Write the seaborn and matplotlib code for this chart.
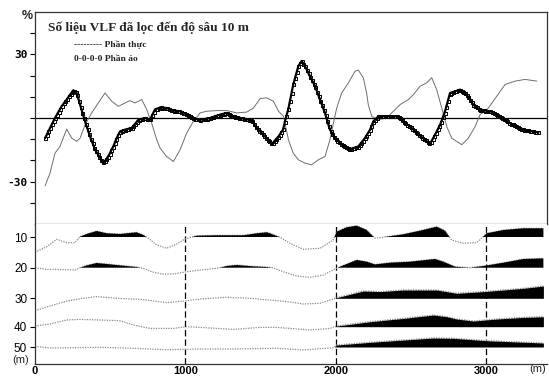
import numpy as np
import matplotlib
matplotlib.use("Agg")
import matplotlib.pyplot as plt
import seaborn as sns
from matplotlib.patheffects import AbstractPathEffect
from matplotlib.path import Path
from matplotlib.transforms import Affine2D, IdentityTransform

# ---------------- data ----------------
# top panel: filtered VLF, percent vs distance (m)
real_m = [67, 100, 133, 166, 211, 244, 277, 300, 333, 377, 421, 466, 510, 555, 599, 632, 665,
          710, 743, 776, 810, 832, 876, 921, 965, 1009, 1054, 1098, 1143, 1209, 1276, 1342,
          1409, 1453, 1498, 1542, 1586, 1620, 1653, 1686, 1718, 1752, 1796, 1840, 1885, 1929,
          1962, 1985, 2007, 2040, 2085, 2129, 2151, 2184, 2206, 2217, 2240, 2284, 2340, 2384,
          2428, 2484, 2517, 2562, 2606, 2639, 2672, 2706, 2739, 2772, 2839, 2883, 2928, 2961,
          3016, 3072, 3127, 3194, 3260, 3338]
real_v = [-32, -26, -16.6, -13.4, -5.2, -9.5, -11, -9.5, -3.2, 2.4, 7.1, 11.8, 7.9, 5.5, 7.1, 8.2,
          7.1, 8.7, 4, -2.4, -10.3, -14.2, -18.2, -20.5, -15, -7.1, -1.6, 2.4, 3.2, 3.5, 3.5, 2.4,
          2.8, 4.7, 9.2, 9.5, 7.9, 3.2, 0.8, -10.3, -16.6, -19.7, -21.3, -22.1, -19.7, -18.2,
          -10.3, -2.4, 4.7, 11.8, 16.6, 22.1, 22.6, 19, 11.8, 6.3, 0.8, -0.8, 0, 3.2,
          6.3, 8.7, 11, 15, 16.6, 19, 13.4, 4.7, -4, -9.5, -12.6, -9.5, -4, 1.6,
          4.7, 10.3, 15.8, 17.4, 18.2, 17.4]

imag_m = [67, 133, 177, 211, 233, 255, 277, 300, 333, 366, 400, 455, 488, 521, 543, 566, 599,
          643, 688, 732, 765, 798, 832, 876, 921, 965, 1009, 1054, 1098, 1165, 1231, 1276, 1320,
          1387, 1442, 1475, 1520, 1575, 1620, 1650, 1665, 1686, 1718, 1752, 1774, 1796, 1829,
          1863, 1896, 1929, 1962, 1996, 2040, 2096, 2151, 2195, 2229, 2251, 2284, 2351, 2417,
          2462, 2495, 2562, 2628, 2661, 2695, 2728, 2761, 2828, 2872, 2916, 2961, 3027, 3094,
          3160, 3249, 3349]
imag_v = [-9.5, 0, 5.5, 8.7, 11, 13.1, 11.8, 6.3, -1.6, -8.7, -15, -21.3, -18, -13.4, -9.5, -6.3,
          -5.5, -4.7, -0.8, 0, -0.8, 4, 5, 4.7, 3.5, 3.2, 1.6, -0.3, -0.8, 0, 1.6, 2.4, 0.8,
          -0.3, -1.1, -4.7, -7.9, -12.3, -8.7, -5.5, -1, 4.5, 15.8, 24.5, 26.9, 24.5, 19.7,
          15, 8.7, 2.4, -5.5, -9.5, -12.6, -14.7, -13.4, -9.5, -5.5, -1.6, 0.8, 0.8, 0.8,
          -2.4, -4, -8.4, -12.2, -7.9, -3.2, 3.2, 11.8, 13.4, 11, 6.3, 3.9, 3.2, 0.8,
          -2.4, -5.5, -6.8]

# bottom panel: current-density wiggles per depth (amplitude, positive = black)
depth_labels = ["10", "20", "30", "40", "50"]

d10_m = [0, 78, 144, 211, 266, 299, 344, 410, 477, 566, 676, 721, 754, 810, 876, 943, 998, 1076,
         1209, 1386, 1475, 1542, 1563, 1630, 1696, 1785, 1896, 1984, 2007, 2073, 2140, 2206,
         2262, 2339, 2450, 2561, 2672, 2727, 2772, 2850, 2938, 3005, 3116, 3249, 3382]
d10_v = [-15.3, -9.7, -2.3, -5.7, -5.7, 0.3, 3, 6, 3.7, 3, 4.7, 2, -1.3, -8, -11.3, -7, -2, 1.3,
         1.7, 1.7, 3.7, 4.7, 3.7, -0.3, -6.3, -12.3, -11.3, -3, 5.3, 9.7, 11.3, 7,
         -1.3, 0.3, 2.7, 6.3, 10.3, 6.3, -3, -6.3, -5.7, 3.7, 7, 8.7, 8.7]

d20_m = [0, 78, 144, 211, 266, 299, 344, 410, 477, 566, 676, 721, 776, 843, 921, 998, 1098, 1209,
         1276, 1342, 1453, 1542, 1580, 1652, 1740, 1829, 1918, 1984, 2029, 2140, 2206, 2262,
         2361, 2495, 2661, 2716, 2794, 2894, 2983, 3116, 3249, 3382]
d20_v = [0, -1.7, -1.7, -2, -2.3, 0, 2.3, 4.7, 3.7, 2.3, 0.7, -0.7, -4, -6.3, -6.3, -4.3, -2.3, -0.7,
         1.7, 2.7, 1.3, 0.7, 0, -4, -8.3, -9.7, -7.3, -2.3, 1, 7.7, 6, 3.3,
         5, 6, 8.7, 6, 1, 0, 1.7, 5, 8.7, 9.3]

d30_m = [0, 100, 211, 322, 410, 543, 699, 876, 998, 1098, 1276, 1431, 1563, 1674, 1785, 1896,
         1984, 2007, 2184, 2295, 2450, 2672, 2805, 2983, 3116, 3249, 3382]
d30_v = [-12.3, -7.7, -2.7, 0, 1.7, 0, -1, -4.3, -2.7, -0.7, 1, 0, -1.7, -3.3, -5.7, -5,
         -0.7, 0.7, 7.3, 6.7, 8.3, 8.3, 5, 6.7, 8.3, 10, 12.3]

d40_m = [0, 100, 211, 299, 432, 566, 654, 765, 921, 1009, 1098, 1320, 1497, 1608, 1696, 1829,
         1962, 2007, 2229, 2450, 2650, 2739, 2805, 2916, 3072, 3249, 3382]
d40_v = [0.7, 2.7, 6.7, 7.3, 6.7, 6, 1.7, -1.7, -1.7, 0, -0.7, -2.7, -0.7, -0.7, -1.7, -3.3,
         -1.7, 0.7, 5, 8.3, 11.7, 10, 7.7, 5.7, 7.7, 9.3, 10]

d50_m = [0, 100, 432, 654, 876, 1098, 1320, 1608, 1785, 1984, 2007, 2229, 2650, 2783, 3005, 3382]
d50_v = [0.7, -1, -0.3, -1.3, -2.7, -2, -2, -1.3, -3, -0.7, 2, 4.7, 9, 8.7, 6.3, 4]

# where black anomalies are drawn (m ranges) for each depth row
d10_spans = [(0, 3400)]
d20_spans = [(0, 3400)]
d30_spans = [(2000, 3400)]
d40_spans = [(2000, 3400)]
d50_spans = [(2000, 3400)]

x_ticks = [0, 1000, 2000, 3000]
profile_marks = [1000, 2000, 3000]

# ---------------- style helpers ----------------
class SampledSquares(AbstractPathEffect):
    """Draw the line plus small hollow squares at a regular screen-x spacing."""
    def __init__(self, step=1.7, size=3.0, lw=0.7):
        super().__init__()
        self.step, self.size, self.lw = step, size, lw

    def draw_path(self, renderer, gc, tpath, affine, rgbFace=None):
        renderer.draw_path(gc, tpath, affine, rgbFace)
        v = affine.transform(tpath.vertices)
        x, y = v[:, 0], v[:, 1]
        order = np.argsort(x)
        x, y = x[order], y[order]
        px = renderer.points_to_pixels(1.0) * 72 / 100.0
        xs = np.arange(x[0], x[-1] + 1e-6, self.step * px)
        ys = np.interp(xs, x, y)
        pts = Path(np.column_stack([xs, ys]))
        mtrans = Affine2D().translate(-0.5, -0.5).scale(self.size * px)
        gc2 = renderer.new_gc()
        gc2.copy_properties(gc)
        gc2.set_linewidth(self.lw)
        renderer.draw_markers(gc2, Path.unit_rectangle(), mtrans, pts, IdentityTransform(), None)
        gc2.restore()


sns.set_theme(style="white")
plt.rcParams['font.family'] = ['Liberation Sans', 'DejaVu Sans']

W, H = 549, 376
fig = plt.figure(figsize=(W / 100, H / 100), dpi=100)


def px_axes(l, t, r, b):
    return fig.add_axes([l / W, 1 - b / H, (r - l) / W, (b - t) / H])


def ftext(x, y, s, **kw):
    fig.text(x / W, 1 - y / H, s, **kw)


XMAX = 3406
ax1 = px_axes(35, 12, 547, 224)
ax2 = px_axes(35, 224, 547, 364)

# ---------------- top panel ----------------
ax1.axhline(0, color="black", lw=0.9, zorder=1)
sns.lineplot(x=real_m, y=real_v, ax=ax1, color="#6e6e6e", lw=0.7, estimator=None, sort=False, zorder=2)
sns.lineplot(x=imag_m, y=imag_v, ax=ax1, color="black", lw=1.6, estimator=None, sort=False,
             zorder=3, path_effects=[SampledSquares()])
ax1.set_xlim(0, XMAX)
ax1.set_ylim(-50, 50)
ax1.set_xticks([])
yt = list(range(-40, 50, 10))
ax1.set_yticks(yt)
ax1.set_yticklabels(["30" if t == 30 else ("-30" if t == -30 else "") for t in yt],
                    family="DejaVu Sans Mono", fontsize=8, fontweight="bold")
ax1.tick_params(axis="y", direction="out", length=3.6, width=0.8, pad=1.5, left=True, colors="black")
for s in ax1.spines.values():
    s.set_visible(True)
    s.set_color("#333333")
    s.set_linewidth(0.9)
ax1.set_xlabel("")
ax1.set_ylabel("")

ftext(22, 19, "%", fontsize=9, fontweight="bold", va="baseline", ha="left")
ftext(48, 31, "Số liệu VLF đã lọc đến độ sâu 10 m", family=["Liberation Serif", "DejaVu Serif"],
      fontsize=9.6, fontweight="bold", va="baseline", ha="left")
ftext(74, 47, "--------- Phần thực", family=["Liberation Serif", "DejaVu Serif"],
      fontsize=6.8, fontweight="bold", va="baseline", ha="left")
ftext(74, 61, "0-0-0-0 Phần ảo", family=["Liberation Serif", "DejaVu Serif"],
      fontsize=6.8, fontweight="bold", va="baseline", ha="left")

# ---------------- bottom panel ----------------
ROW_Y = [237, 267.7, 298.3, 326.7, 347]   # row baselines (axis units = screen rows)
rows = [(d10_m, d10_v, d10_spans), (d20_m, d20_v, d20_spans), (d30_m, d30_v, d30_spans),
        (d40_m, d40_v, d40_spans), (d50_m, d50_v, d50_spans)]

for base, (m, v, spans) in zip(ROW_Y, rows):
    m = np.asarray(m, float)
    v = np.asarray(v, float)
    yy = base - v
    sns.lineplot(x=m, y=yy, ax=ax2, color="#8a8a8a", lw=0.9, ls=(0, (1, 1)),
                 estimator=None, sort=False, zorder=2)
    inspan = np.zeros_like(m, dtype=bool)
    for a, b in spans:
        inspan |= (m >= a) & (m <= b)
    ax2.fill_between(m, base, yy, where=(v > 0) & inspan, interpolate=True,
                     color="black", lw=0, zorder=3)

for xm in profile_marks:
    ax2.axvline(xm, color="black", lw=0.9, ls=(0, (5, 2.5)), zorder=1)

ax2.set_xlim(0, XMAX)
ax2.set_ylim(364, 224)
ax2.set_yticks(ROW_Y)
ax2.set_yticklabels(depth_labels, fontsize=8.5)
ax2.set_xticks(x_ticks)
ax2.set_xticklabels([str(t) for t in x_ticks], fontsize=8, fontweight="bold")
ax2.tick_params(axis="y", direction="out", length=3.6, width=0.8, pad=2, left=True, colors="black")
ax2.tick_params(axis="x", direction="out", length=0, pad=1.5, colors="black")
for side in ["top", "right"]:
    ax2.spines[side].set_visible(False)
for side in ["left", "bottom"]:
    ax2.spines[side].set_visible(True)
    ax2.spines[side].set_color("#333333")
    ax2.spines[side].set_linewidth(0.9)
ax2.set_xlabel("")
ax2.set_ylabel("")

ftext(21, 360, "(m)", fontsize=8, va="center", ha="center")
ftext(538, 369, "(m)", fontsize=8, va="center", ha="center")

fig.savefig("out.png", dpi=100)
